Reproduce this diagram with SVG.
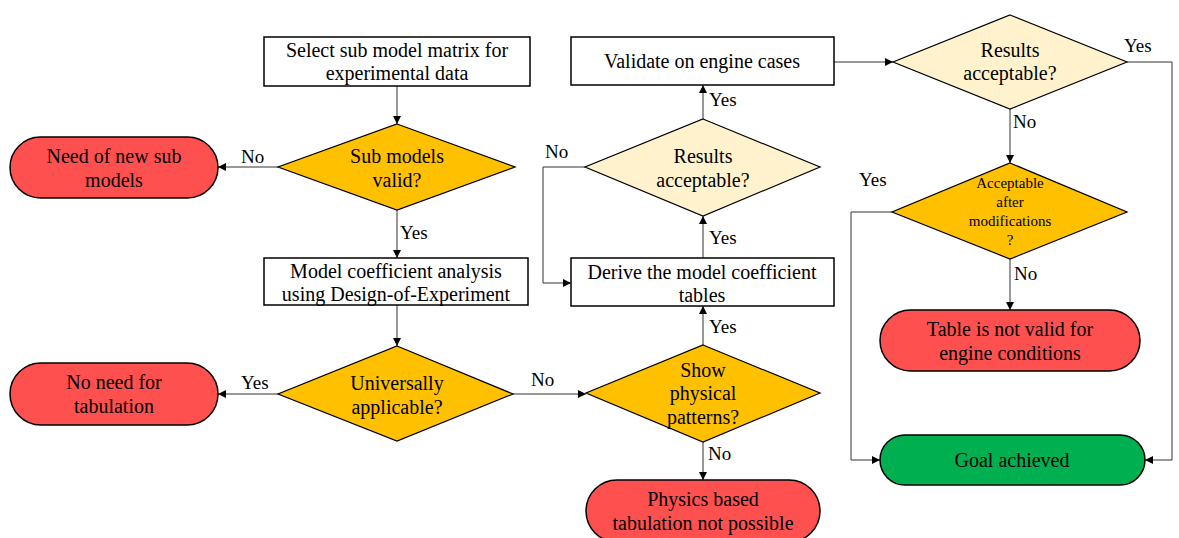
<svg xmlns="http://www.w3.org/2000/svg" width="1179" height="538" viewBox="0 0 1179 538">
<defs>
<marker id="ah" viewBox="0 0 10 10" refX="10" refY="5" markerWidth="8" markerHeight="8" markerUnits="userSpaceOnUse" orient="auto">
<path d="M0,0 L10,5 L0,10 z" fill="#000"/>
</marker>
<style>
text{font-family:'Liberation Serif','DejaVu Serif',serif;font-size:20px;fill:#000;text-anchor:middle}
.box{fill:#fff;stroke:#000;stroke-width:1.5}
.dia{fill:#FFC000;stroke:#000;stroke-width:1.2}
.dial{fill:#FFF2CC;stroke:#000;stroke-width:1.2}
.red{fill:#FF5050;stroke:#000;stroke-width:1.5}
.grn{fill:#00B050;stroke:#000;stroke-width:1.5}
.c{fill:none;stroke:#333;stroke-width:1;marker-end:url(#ah)}
.lbl{text-anchor:start;font-size:19px}
.sm{font-size:15px}
</style>
</defs>
<rect width="1179" height="538" fill="#fff"/>
<g id="connectors">
<path class="c" d="M397,86 V124"/>
<path class="c" d="M278,167 H218"/>
<path class="c" d="M397,210 V258"/>
<path class="c" d="M397,305 V346"/>
<path class="c" d="M278,394 H218"/>
<path class="c" d="M513,394 H586"/>
<path class="c" d="M703,345 V306"/>
<path class="c" d="M703,442 V480"/>
<path class="c" d="M703,258 V216"/>
<path class="c" d="M585,167 H543 V283 H571"/>
<path class="c" d="M703,119 V85"/>
<path class="c" d="M834,62 H893"/>
<path class="c" d="M1127,62 H1172 V460 H1145"/>
<path class="c" d="M1010,109 V163"/>
<path class="c" d="M892,212 H851 V460 H880"/>
<path class="c" d="M1010,259 V310"/>
<text class="lbl" x="241" y="163">No</text>
<text class="lbl" x="400" y="239">Yes</text>
<text class="lbl" x="241" y="389">Yes</text>
<text class="lbl" x="531" y="386">No</text>
<text class="lbl" x="709" y="333">Yes</text>
<text class="lbl" x="708" y="460">No</text>
<text class="lbl" x="709" y="244">Yes</text>
<text class="lbl" x="545" y="158">No</text>
<text class="lbl" x="709" y="106">Yes</text>
<text class="lbl" x="1124" y="52">Yes</text>
<text class="lbl" x="1013" y="128">No</text>
<text class="lbl" x="859" y="186">Yes</text>
<text class="lbl" x="1014" y="280">No</text>
</g>
<g id="n1"><rect class="box" x="264" y="37" width="266" height="49"/><text x="397" y="57">Select sub model matrix for</text><text x="397" y="80">experimental data</text></g>
<g id="n2"><polygon class="dia" points="397,124 515,167 397,210 278,167"/><text x="397" y="163">Sub models</text><text x="397" y="187">valid?</text></g>
<g id="n3"><rect class="red" x="10" y="137" width="208" height="61" rx="30.5"/><text x="114" y="163">Need of new sub</text><text x="114" y="187">models</text></g>
<g id="n4"><rect class="box" x="264" y="258" width="264" height="47"/><text x="396" y="278">Model coefficient analysis</text><text x="396" y="301">using Design-of-Experiment</text></g>
<g id="n5"><polygon class="dia" points="397,346 513,394 397,441 278,394"/><text x="397" y="390">Universally</text><text x="397" y="414">applicable?</text></g>
<g id="n6"><rect class="red" x="10" y="363" width="208" height="62" rx="31"/><text x="114" y="389">No need for</text><text x="114" y="413">tabulation</text></g>
<g id="n7"><polygon class="dia" points="703,345 820,393 703,442 586,393"/><text x="703" y="377">Show</text><text x="703" y="400">physical</text><text x="703" y="424">patterns?</text></g>
<g id="n8"><rect class="red" x="586" y="480" width="234" height="62" rx="31"/><text x="703" y="506">Physics based</text><text x="703" y="530">tabulation not possible</text></g>
<g id="n9"><rect class="box" x="571" y="258" width="263" height="48"/><text x="702" y="279">Derive the model coefficient</text><text x="702" y="302">tables</text></g>
<g id="n10"><polygon class="dial" points="703,119 820,167 703,216 585,167"/><text x="703" y="163">Results</text><text x="703" y="187">acceptable?</text></g>
<g id="n11"><rect class="box" x="571" y="37" width="263" height="48"/><text x="702" y="68">Validate  on engine cases</text></g>
<g id="n12"><polygon class="dial" points="1010,15 1127,62 1010,109 893,62"/><text x="1010" y="57">Results</text><text x="1010" y="80">acceptable?</text></g>
<g id="n13"><polygon class="dia" points="1010,163 1127,212 1010,259 892,212"/><text class="sm" x="1010" y="188">Acceptable</text><text class="sm" x="1010" y="207">after</text><text class="sm" x="1010" y="226">modifications</text><text class="sm" x="1010" y="245">?</text></g>
<g id="n14"><rect class="red" x="880" y="310" width="260" height="61" rx="30.5"/><text x="1010" y="336">Table is not valid for</text><text x="1010" y="360">engine conditions</text></g>
<g id="n15"><rect class="grn" x="880" y="435" width="265" height="50" rx="25"/><text x="1012" y="467">Goal achieved</text></g>
</svg>
